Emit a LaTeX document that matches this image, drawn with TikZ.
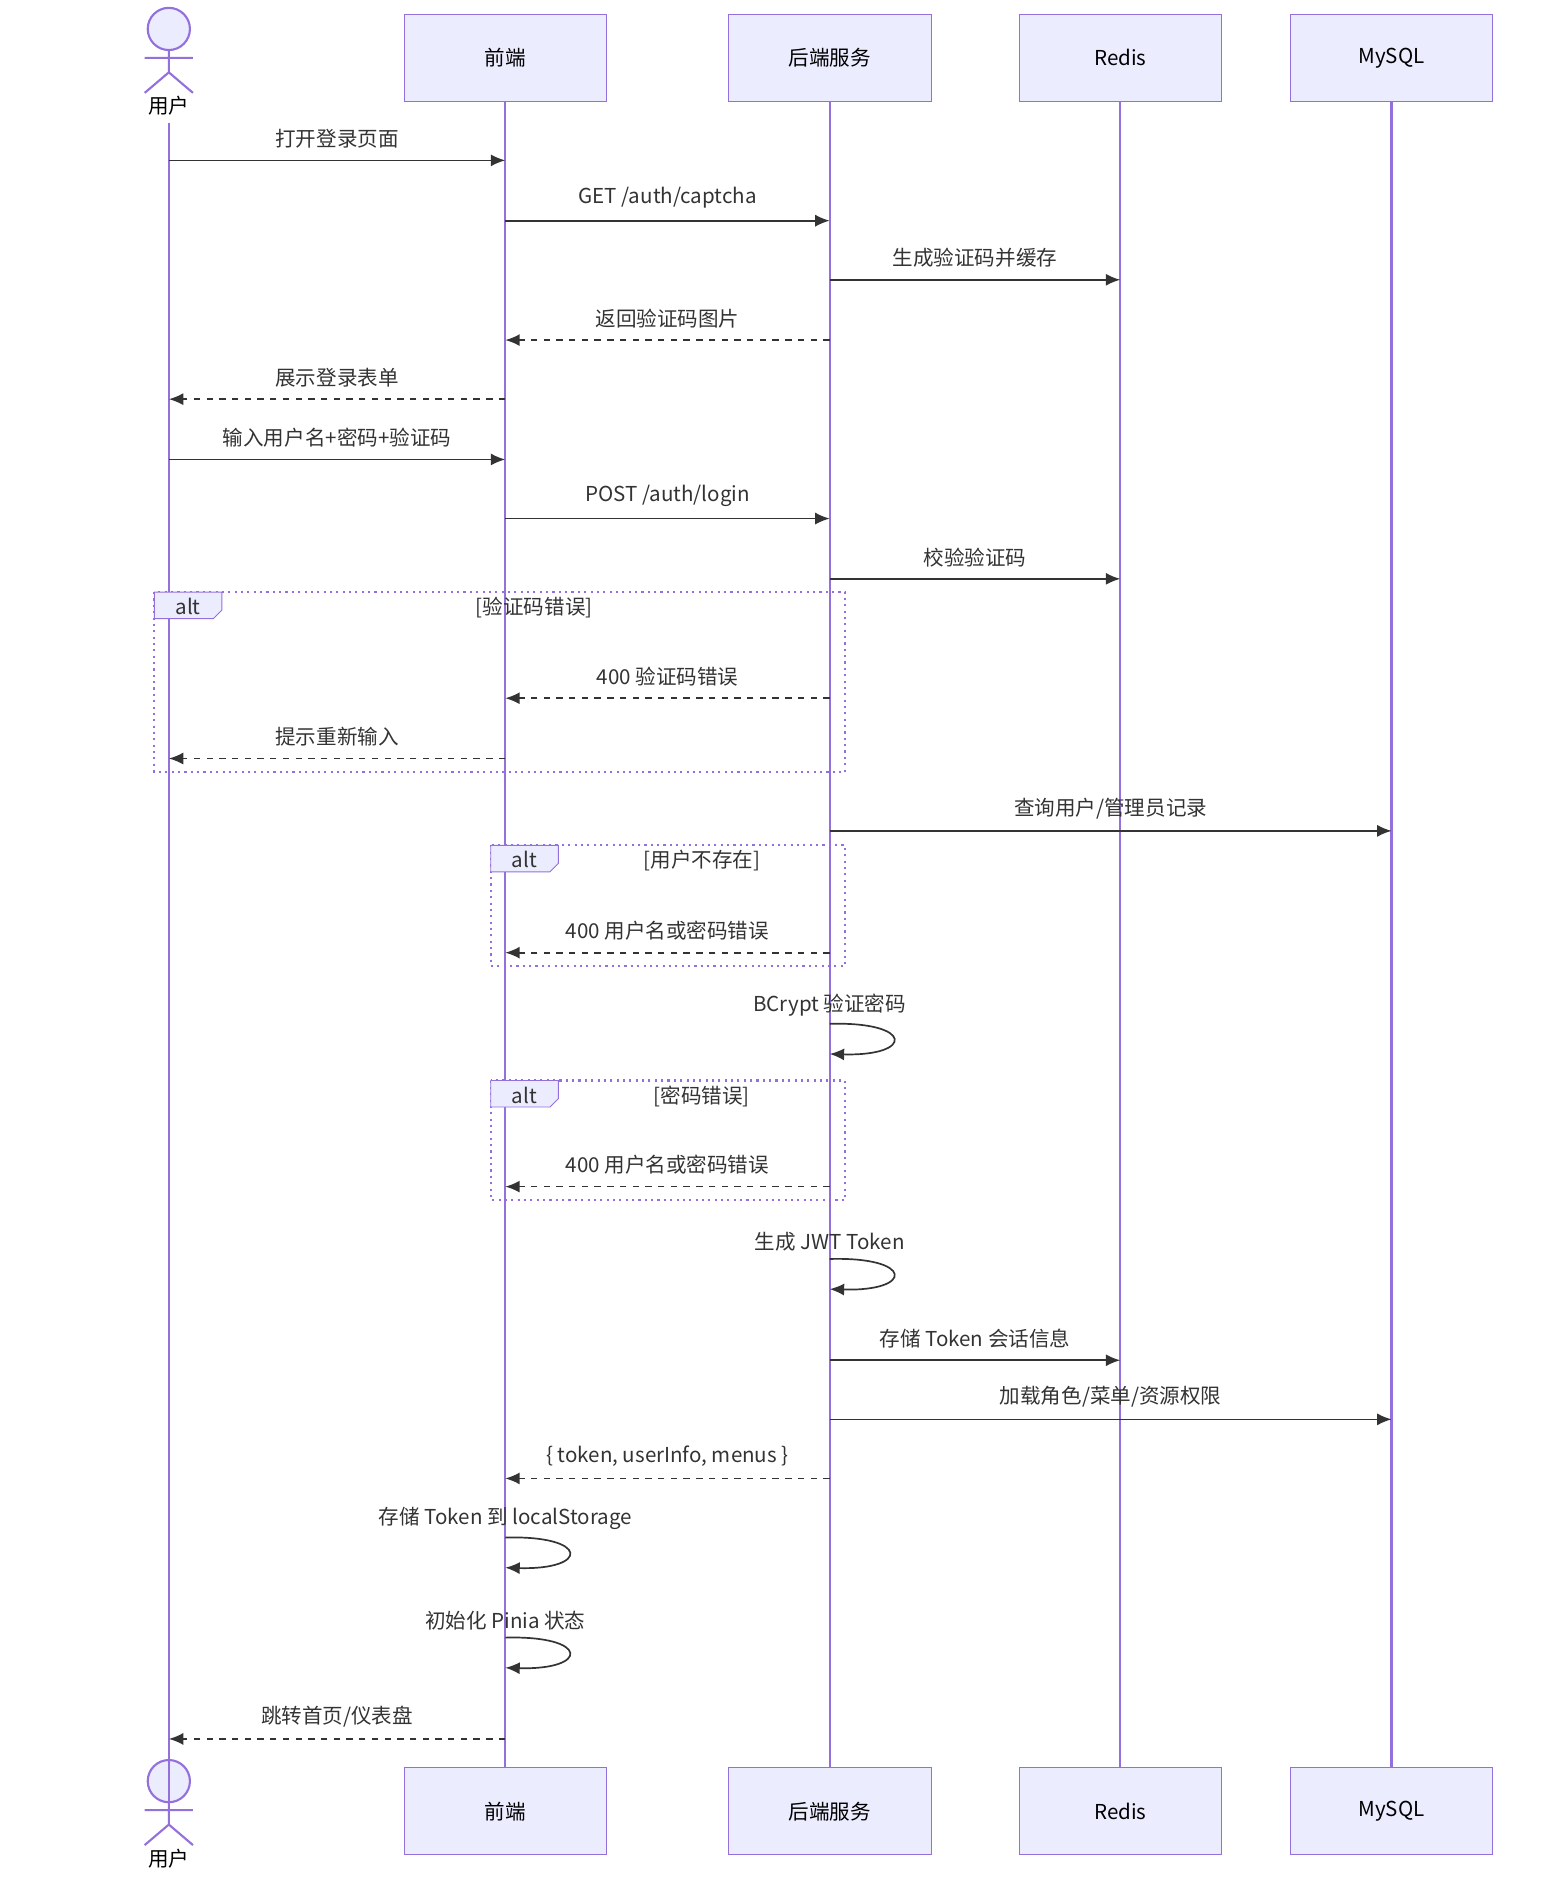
\documentclass[tikz,border=0pt]{standalone}
\usepackage{fontspec}
\setmainfont{Noto Sans CJK SC}
\usetikzlibrary{arrows.meta,positioning}
\definecolor{boxfill}{HTML}{ECECFF}
\definecolor{boxline}{HTML}{9370DB}
\definecolor{ink}{HTML}{333333}
\tikzset{
  part/.style={draw=boxline, fill=boxfill, minimum width=3.36cm, minimum height=1.44cm, font=\fontsize{9.7}{12}\selectfont},
  life/.style={boxline, line width=1.1pt},
  msg/.style={ink, line width=0.8pt, -{Latex[length=2.4mm,width=2mm]}},
  reply/.style={msg, dashed},
  lbl/.style={font=\fontsize{9.7}{12}\selectfont, text=ink, above},
  altbox/.style={boxline, dotted, line width=1pt},
}
\newcommand{\msgline}[5]{% style, from, to, y, text
  \coordinate (m#4a) at (#2 |- 0,#4);
  \coordinate (m#4b) at (#3 |- 0,#4);
  \draw[#1] (m#4a) -- node[lbl, yshift=2pt] {#5} (m#4b);}
\newcommand{\selfloop}[3]{% lifeline, y, text
  \coordinate (s#2a) at (#1 |- 0,#2);
  \coordinate (s#2b) at (#1 |- 0,#2+25);
  \node[lbl] at ([yshift=0pt]s#2a) {#3};
  \draw[msg] (s#2a) .. controls +(70,-2) and +(70,2) .. (s#2b);}
\newcommand{\altframe}[6]{% x1,y1,x2,y2,cond x,cond
  \draw[altbox] (#1,#2) rectangle (#3,#4);
  \draw[boxline, fill=boxfill] (#1,#2) -- (#1+56,#2) -- (#1+56,#2+15) -- (#1+49,#2+22) -- (#1,#2+22) -- cycle;
  \node[font=\fontsize{9.7}{12}\selectfont, text=ink] at (#1+28,#2+12) {alt};
  \node[font=\fontsize{9.7}{12}\selectfont, text=ink] at (#5,#2+13) {#6};}
\begin{document}
\begin{tikzpicture}[x=0.02cm, y=-0.02cm]
  \useasboundingbox (0,0) rectangle (1300,1559);
  % participants
  \foreach \nm/\x/\t in {fe/419/前端, be/688/后端服务, rd/929/Redis, db/1154/MySQL} {
    \node[part] (\nm top) at (\x,48) {\t};
    \node[part] (\nm bot) at (\x,1502) {\t};
    \draw[life] (\nm top) -- (\nm bot);
  }
  % actor
  \coordinate (us) at (140,0);
  \foreach \y/\pos in {0/top, 1453/bot} {
    \begin{scope}[yshift={-\y*0.02cm}]
      \draw[boxline, fill=boxfill, line width=1pt] (140,24) circle (0.35cm);
      \draw[boxline, line width=1pt] (140,42) -- (140,60) (120,48) -- (160,48) (140,60) -- (120,77) (140,60) -- (160,77);
      \node[font=\fontsize{9.7}{12}\selectfont, text=black] (us\pos) at (140,88) {用户};
    \end{scope}
  }
  \draw[life] (ustop.south) -- ([yshift=0.4cm]usbot.north);
  % messages
  \msgline{msg}{us}{fetop}{133}{打开登录页面}
  \msgline{msg}{fetop}{betop}{183}{GET /auth/captcha}
  \msgline{msg}{betop}{rdtop}{232}{生成验证码并缓存}
  \msgline{reply}{betop}{fetop}{282}{返回验证码图片}
  \msgline{reply}{fetop}{us}{331}{展示登录表单}
  \msgline{msg}{us}{fetop}{381}{输入用户名+密码+验证码}
  \msgline{msg}{fetop}{betop}{430}{POST /auth/login}
  \msgline{msg}{betop}{rdtop}{480}{校验验证码}
  \altframe{128}{491}{701}{640}{443}{[验证码错误]}
  \msgline{reply}{betop}{fetop}{579}{400 验证码错误}
  \msgline{reply}{fetop}{us}{629}{提示重新输入}
  \msgline{msg}{betop}{dbtop}{689}{查询用户/管理员记录}
  \altframe{407}{701}{701}{801}{582}{[用户不存在]}
  \msgline{reply}{betop}{fetop}{790}{400 用户名或密码错误}
  \selfloop{betop}{849}{BCrypt 验证密码}
  \altframe{407}{896}{701}{995}{582}{[密码错误]}
  \msgline{reply}{betop}{fetop}{984}{400 用户名或密码错误}
  \selfloop{betop}{1044}{生成 JWT Token}
  \msgline{msg}{betop}{rdtop}{1128}{存储 Token 会话信息}
  \msgline{msg}{betop}{dbtop}{1177}{加载角色/菜单/资源权限}
  \msgline{reply}{betop}{fetop}{1226}{\{ token, userInfo, menus \}}
  \selfloop{fetop}{1275}{存储 Token 到 localStorage}
  \selfloop{fetop}{1358}{初始化 Pinia 状态}
  \msgline{reply}{fetop}{us}{1442}{跳转首页/仪表盘}
\end{tikzpicture}
\end{document}
